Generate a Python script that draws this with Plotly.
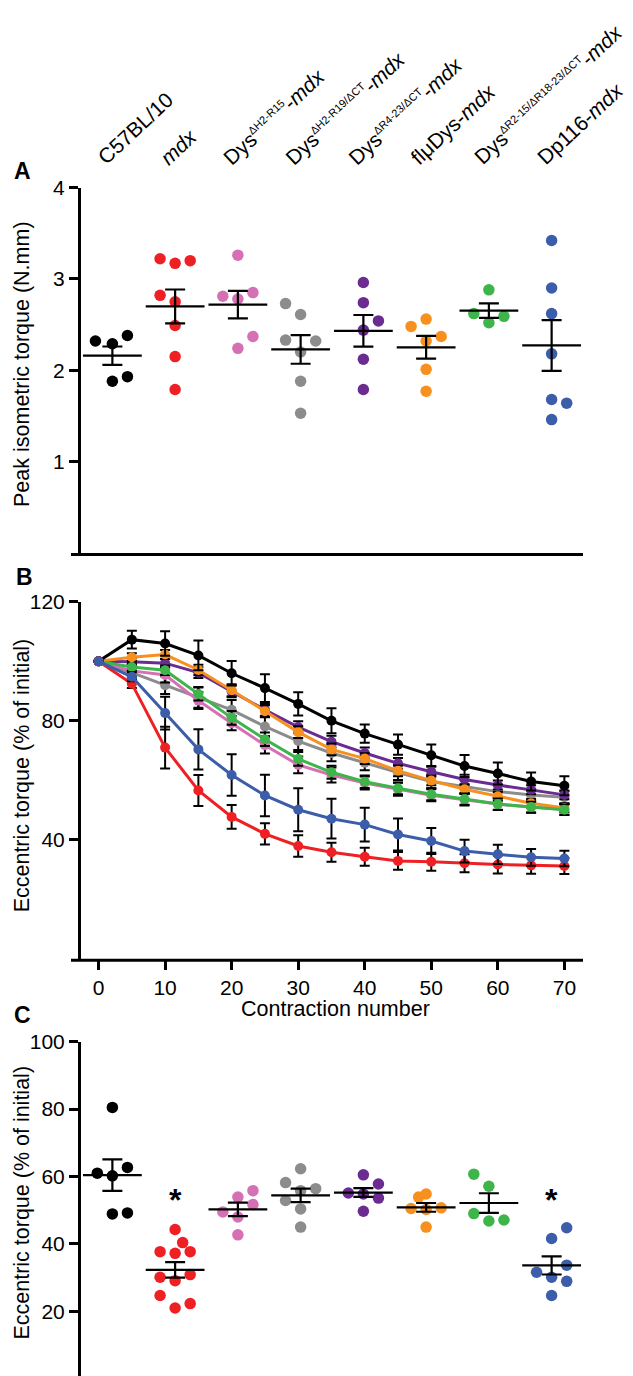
import numpy as np
import plotly.graph_objects as go

# ---------------- data ----------------
SUP = '<sup><span style="font-size:11px">{}</span></sup>'
group_labels = [
    "C57BL/10",
    "<i>mdx</i>",
    "Dys" + SUP.format("ΔH2-R15") + "-<i>mdx</i>",
    "Dys" + SUP.format("ΔH2-R19/ΔCT") + "-<i>mdx</i>",
    "Dys" + SUP.format("ΔR4-23/ΔCT") + "-<i>mdx</i>",
    "flμDys-<i>mdx</i>",
    "Dys" + SUP.format("ΔR2-15/ΔR18-23/ΔCT") + "-<i>mdx</i>",
    "Dp116-<i>mdx</i>",
]
group_colors = ["#000000", "#EE2024", "#D670B4", "#8C8C8C",
                "#6B2C91", "#F7901E", "#3DB54A", "#3C5DAA"]

# Panel A: peak isometric torque (N.mm)
a_c57 = [2.32, 2.29, 2.38, 1.88, 1.93]
a_mdx = [3.22, 3.17, 3.20, 2.82, 2.75, 2.49, 2.15, 1.79]
a_h2r15 = [3.26, 2.81, 2.78, 2.85, 2.37, 2.24]
a_h2r19 = [2.73, 2.61, 2.33, 2.32, 2.20, 1.88, 1.53]
a_r423 = [2.96, 2.74, 2.54, 2.44, 2.12, 1.79]
a_flmu = [2.48, 2.56, 2.37, 2.32, 2.01, 1.77]
a_r215 = [2.88, 2.62, 2.59, 2.52]
a_dp116 = [3.42, 2.90, 2.62, 2.18, 1.68, 1.64, 1.46]
a_sem = [0.10, 0.185, 0.15, 0.157, 0.173, 0.125, 0.08, 0.278]
# horizontal jitter (category units)
a_jit = [
    [-0.27, 0, 0.24, 0, 0.24],
    [-0.24, 0, 0.24, -0.24, 0, 0, 0, 0],
    [0, -0.24, 0, 0.24, 0.24, 0],
    [-0.24, 0, -0.24, 0.24, 0, 0, 0],
    [0, 0, 0.24, 0, 0, 0],
    [-0.24, 0, 0.24, 0, 0, 0],
    [0, -0.24, 0.24, 0],
    [0, 0, 0, 0, 0, 0.24, 0],
]

# Panel B: eccentric torque over contractions
contraction = [0, 5, 10, 15, 20, 25, 30, 35, 40, 45, 50, 55, 60, 65, 70]
b_c57 = [100, 107.3, 106, 102, 96, 91, 85.7, 80, 75.7, 72, 68.4, 64.8, 62.3, 59.6, 58.2]
b_mdx = [100, 92.5, 71, 56.6, 47.7, 42, 37.9, 35.8, 34.3, 32.9, 32.6, 32.1, 31.7, 31.4, 31.2]
b_h2r15 = [100, 96.8, 95.4, 86.8, 79.2, 71.8, 65.2, 61.8, 59.1, 57, 55, 53.5, 52, 51, 50.2]
b_h2r19 = [100, 96.2, 92, 87.9, 83.7, 78.1, 73.2, 69.2, 65.9, 62.6, 59.6, 57.9, 56.2, 55.1, 54.3]
b_r423 = [100, 99.9, 99.4, 96.2, 89.9, 83.7, 77.9, 73, 69.2, 65.7, 62.9, 60.3, 58.4, 56.8, 55.1]
b_flmu = [100, 101.4, 102.3, 97.1, 90.3, 83.2, 76.2, 70.4, 67.3, 63.2, 59.9, 57, 54.6, 52.3, 50.7]
b_r215 = [100, 98.1, 97, 89, 81, 73.8, 67.2, 62.7, 59.5, 57.3, 55.3, 53.7, 52, 51, 50.1]
b_dp116 = [100, 94.8, 82.6, 70.4, 61.8, 54.9, 50.1, 47.1, 45.1, 41.8, 39.6, 36.2, 35.1, 34.1, 33.7]

e_c57 = [0, 3, 4.1, 5, 4.1, 4.7, 3.9, 4.2, 3.1, 3.4, 3.6, 3.7, 3.7, 3, 3.2]
e_mdx = [0, 1.5, 7, 5.2, 4, 3.6, 3.6, 3.2, 3, 3, 3, 3, 3, 2.8, 2.7]
e_h2r15 = [0, 2, 2.5, 2.8, 2.4, 2.8, 2.8, 2.5, 2.2, 2.2, 2, 2, 2, 1.9, 1.8]
e_h2r19 = [0, 2.5, 3, 3.5, 3.3, 3.2, 3, 2.8, 2.5, 2.5, 2.3, 2.2, 2.1, 2, 2]
e_r423 = [0, 1.2, 1.5, 1.8, 2, 2, 2, 2, 1.8, 1.8, 1.7, 1.6, 1.5, 1.5, 1.5]
e_flmu = [0, 1.3, 1.5, 1.8, 2, 2, 2, 2, 1.8, 1.8, 1.6, 1.5, 1.5, 1.4, 1.4]
e_r215 = [0, 1.3, 1.6, 2.2, 2.3, 2.3, 2.3, 2.2, 2.1, 2, 2, 1.9, 1.9, 1.8, 1.8]
e_dp116 = [0, 1.5, 5.5, 6.8, 7, 7, 7.2, 6.7, 5.7, 5.4, 4.4, 3.8, 3.2, 2.8, 2.6]

# Panel C: eccentric torque at contraction 70 (% of initial)
c_c57 = [80.5, 61, 60.2, 62.7, 48.9, 49.2]
c_mdx = [44.3, 37.7, 40.4, 37.2, 37.7, 30.1, 29.1, 30.9, 24.7, 21, 22.3]
c_h2r15 = [53.9, 55.8, 49.5, 51.7, 48, 42.7]
c_h2r19 = [62.3, 58.2, 56.4, 55.8, 52.9, 50.4, 45]
c_r423 = [60.5, 55.1, 57.8, 54.8, 53.6, 49.7]
c_flmu = [54.8, 53.9, 50.5, 50.7, 50.2, 45]
c_r215 = [60.7, 57.1, 49, 46.8, 47.1]
c_dp116 = [44.8, 41.6, 31.6, 30.1, 33.7, 28.9, 24.7]
c_sem = [4.7, 2.3, 2.0, 2.0, 1.3, 1.3, 2.9, 2.7]
c_jit = [
    [0, -0.24, 0, 0.24, 0, 0.24],
    [0, -0.24, 0.12, 0, 0.24, -0.24, 0, 0.24, -0.24, 0, 0.24],
    [0, 0.24, -0.24, 0.24, 0, 0],
    [0, -0.24, 0.24, 0, -0.24, 0, 0],
    [0, -0.24, 0.24, 0, 0.24, 0],
    [0, -0.12, -0.24, 0.24, 0, 0],
    [-0.24, 0, -0.24, 0, 0.24],
    [0.24, 0, -0.24, 0, 0.24, 0.24, 0],
]
c_signif = [1, 7]      # groups marked with *
c_star_y = 55.6

a_data = [a_c57, a_mdx, a_h2r15, a_h2r19, a_r423, a_flmu, a_r215, a_dp116]
b_data = [b_c57, b_mdx, b_h2r15, b_h2r19, b_r423, b_flmu, b_r215, b_dp116]
b_err = [e_c57, e_mdx, e_h2r15, e_h2r19, e_r423, e_flmu, e_r215, e_dp116]
c_data = [c_c57, c_mdx, c_h2r15, c_h2r19, c_r423, c_flmu, c_r215, c_dp116]

# ---------------- layout helpers ----------------
W, H = 633, 1376
FONT = "Liberation Sans, Arial, Helvetica, sans-serif"


def px(x):
    return x / W


def py(y):
    return 1 - y / H


X_LEFT, X_RIGHT, X_AXIS_START = 73, 575, 63
A_TOP, A_BOT = 169, 537.7
B_TOP, B_BOT = 587, 947
C_TOP, C_BOT = 1030.7, 1370.7

fig = go.Figure()


def dot_panel(data, jit, sem, xa, ya):
    for i, vals in enumerate(data):
        fig.add_trace(go.Scatter(
            x=[i + j for j in jit[i]], y=vals, mode="markers",
            marker=dict(color=group_colors[i], size=11.5),
            xaxis=xa, yaxis=ya, showlegend=False, hoverinfo="y"))
    for i, vals in enumerate(data):
        fig.add_trace(go.Scatter(
            x=[i], y=[float(np.mean(vals))], mode="markers",
            marker=dict(symbol="line-ew", size=42,
                        line=dict(color="black", width=2.2)),
            error_y=dict(type="data", array=[sem[i]], color="black",
                         thickness=2.2, width=10),
            xaxis=xa, yaxis=ya, showlegend=False, hoverinfo="y"))


dot_panel(a_data, a_jit, a_sem, "x", "y")

draw_order = [3, 2, 4, 5, 6, 0, 1, 7]
for i in draw_order:
    fig.add_trace(go.Scatter(
        x=contraction, y=b_data[i], mode="lines+markers",
        line=dict(color=group_colors[i], width=3),
        marker=dict(color=group_colors[i], size=10),
        error_y=dict(type="data", array=b_err[i], color="black",
                     thickness=2, width=5),
        xaxis="x2", yaxis="y2", showlegend=False))

dot_panel(c_data, c_jit, c_sem, "x3", "y3")

axis_common = dict(showgrid=False, zeroline=False, color="black",
                   tickfont=dict(family=FONT, size=21, color="black"))
yax = dict(showline=True, linewidth=3, linecolor="black", ticks="outside",
           ticklen=9, tickwidth=3, tickcolor="black", **axis_common)
xdom = [px(X_LEFT), px(X_RIGHT)]

fig.update_layout(
    width=W, height=H, margin=dict(l=0, r=0, t=0, b=0),
    paper_bgcolor="white", plot_bgcolor="white",
    font=dict(family=FONT, size=21, color="black"),
    xaxis=dict(domain=xdom, range=[-0.5, 7.5], showline=False,
               showticklabels=False, ticks="", anchor="y", **axis_common),
    yaxis=dict(domain=[py(A_BOT), py(A_TOP)], range=[0, 4],
               tickvals=[1, 2, 3, 4], anchor="x", **yax),
    xaxis2=dict(domain=xdom, range=[-2.64, 72.8], showline=False,
                tickvals=list(range(0, 71, 10)), ticks="outside",
                ticklen=10, tickwidth=3, tickcolor="black", anchor="y2",
                **axis_common),
    yaxis2=dict(domain=[py(B_BOT), py(B_TOP)], range=[0, 120],
                tickvals=[40, 80, 120], anchor="x2", **yax),
    xaxis3=dict(domain=xdom, range=[-0.5, 7.5], showline=False,
                showticklabels=False, ticks="", anchor="y3", **axis_common),
    yaxis3=dict(domain=[py(C_BOT), py(C_TOP)], range=[0, 100],
                tickvals=[20, 40, 60, 80, 100], anchor="x3", **yax),
)

# x-axis baselines extending a little left of the y axis (Prism style)
for ybot in (A_BOT, B_BOT, C_BOT):
    fig.add_shape(type="line", xref="paper", yref="paper",
                  x0=px(X_AXIS_START), x1=px(X_RIGHT),
                  y0=py(ybot + 1.5), y1=py(ybot + 1.5),
                  line=dict(color="black", width=3))

ann = []
# rotated group labels at top
for i, lab in enumerate(group_labels):
    ann.append(dict(text=lab, xref="x", yref="paper", x=i, y=py(153),
                    xanchor="left", yanchor="bottom", xshift=-22,
                    textangle=-43, showarrow=False,
                    font=dict(family=FONT, size=21, color="black")))
# panel letters
for letter, (lx, ly) in zip("ABC", [(14, 152), (16, 562), (15, 1004)]):
    ann.append(dict(text=f"<b>{letter}</b>", xref="paper", yref="paper",
                    x=px(lx), y=py(ly), xanchor="center", yanchor="middle",
                    showarrow=False, font=dict(family=FONT, size=23, color="black")))
# y-axis titles
for title, cy in [("Peak isometric torque (N.mm)", 347),
                  ("Eccentric torque (% of initial)", 762),
                  ("Eccentric torque (% of initial)", 1193)]:
    ann.append(dict(text=title, xref="paper", yref="paper", x=px(14), y=py(cy),
                    xanchor="center", yanchor="middle", textangle=-90,
                    showarrow=False, font=dict(family=FONT, size=21.5, color="black")))
# x-axis title panel B
ann.append(dict(text="Contraction number", xref="paper", yref="paper",
                x=px(327), y=py(998), xanchor="center", yanchor="middle",
                showarrow=False, font=dict(family=FONT, size=21.5, color="black")))
# significance stars
for g in c_signif:
    ann.append(dict(text="<b>*</b>", xref="x3", yref="y3", x=g, y=c_star_y,
                    xanchor="center", yanchor="middle", yshift=-9,
                    showarrow=False, font=dict(family=FONT, size=32, color="black")))

fig.update_layout(annotations=ann)
fig.write_html("out.html")
